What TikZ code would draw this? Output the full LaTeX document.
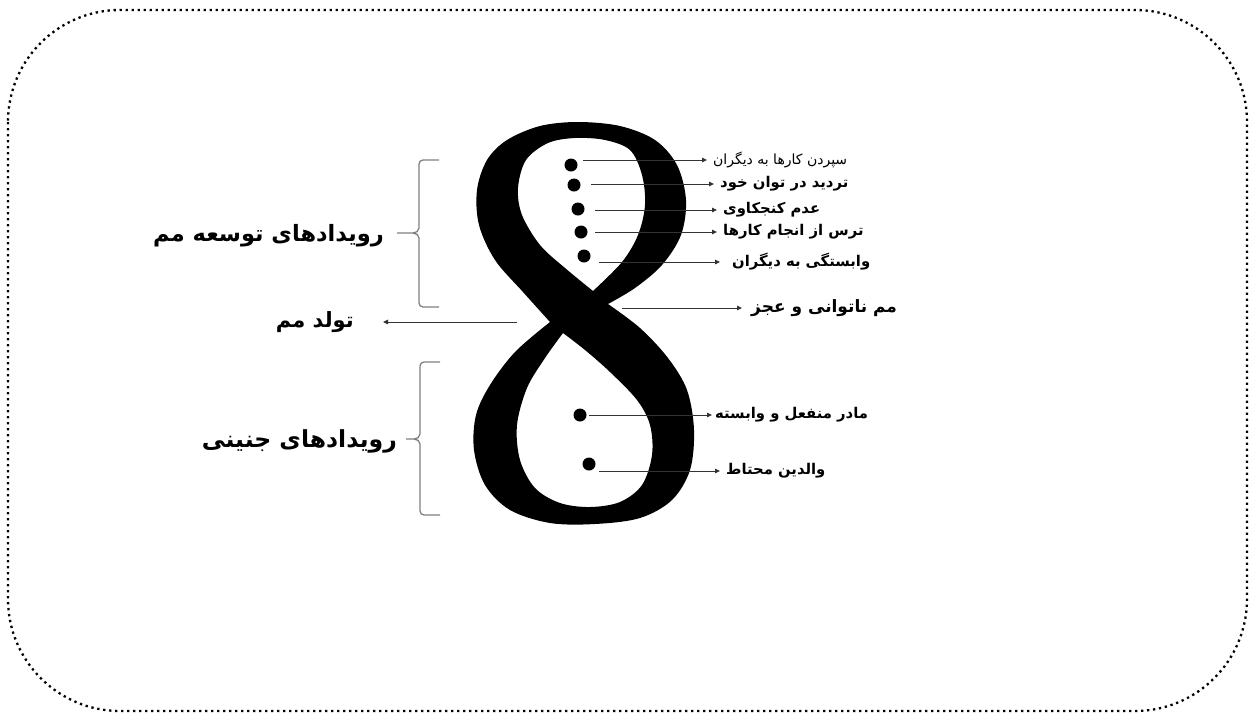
\documentclass[tikz,border=0pt]{standalone}
\usepackage{fontspec}
\setmainfont{Liberation Serif}
\newfontfamily\fa[Script=Arabic]{DejaVu Sans}
\TeXXeTstate=1
\usetikzlibrary{arrows.meta}
\tikzset{
  frameline/.style={line width=2.3pt, dash pattern=on 2.3pt off 3.7pt},
  dotmark/.style={circle, fill=black, inner sep=0pt, minimum size=13pt},
  lbl/.style={inner xsep=6pt, inner ysep=2pt, anchor=west, font=\fa\bfseries\fontsize{14.8}{17}\selectfont},
  lbllight/.style={inner xsep=6pt, inner ysep=2pt, anchor=west, font=\fa\fontsize{14}{16}\selectfont},
  big/.style={inner sep=0pt, font=\fa\bfseries\fontsize{22.5}{26}\selectfont},
  arr/.style={draw=black!80, line width=1pt, -{Triangle[length=5pt,width=4.5pt]}},
  bracestyle/.style={draw=black!50, line width=1.3pt},
}
\begin{document}
\begin{tikzpicture}[x=1pt,y=-1pt]
\useasboundingbox (0,0) rectangle (1250,713);
\draw[frameline, rounded corners=112pt] (8,10) rectangle (1247,711);

% big eight
\fill[even odd rule]
  plot[smooth, tension=0.55] coordinates {(550,322) (523,292) (495,260) (479,225) (477,190) (487,160) (507,140) (540,126) (578,122) (620,126) (655,140) (677,165) (686,200) (681,235) (662,265) (635,288) (608,304)}
  -- plot[smooth, tension=0.55] coordinates {(608,304) (640,328) (668,358) (687,390) (694,430) (690,470) (672,500) (640,518) (595,524) (550,523) (510,510) (485,485) (474,450) (476,415) (490,385) (515,352) (550,322)}
  -- cycle
  plot[smooth, tension=0.55] coordinates {(593,291) (565,268) (540,245) (522,215) (518,188) (526,160) (548,143) (575,138) (605,140) (630,150) (642,175) (645,205) (638,235) (622,262) (593,291)}
  -- cycle
  plot[smooth, tension=0.55] coordinates {(563,333) (545,358) (527,388) (517,425) (520,460) (535,488) (560,503) (590,507) (620,502) (642,485) (652,455) (650,425) (637,400) (610,372) (585,350) (563,333)}
  -- cycle;

% dots
\node[dotmark] (d1) at (571,165) {};
\node[dotmark] (d2) at (574,185) {};
\node[dotmark] (d3) at (578,209) {};
\node[dotmark] (d4) at (581,232) {};
\node[dotmark] (d5) at (584,256) {};
\node[dotmark] (d7) at (580,415) {};
\node[dotmark] (d8) at (589,464) {};

% start coordinates
\coordinate (s1) at (583,160);
\coordinate (s2) at (591,184);
\coordinate (s3) at (595,210);
\coordinate (s4) at (595,232);
\coordinate (s5) at (599,262);
\coordinate (s6) at (622,308);
\coordinate (s7) at (589,415);
\coordinate (s8) at (599,471);
\coordinate (s9) at (517,322);

% right labels
\node[lbllight] (l1) at (707,160) {\beginR سپردن کارها به دیگران\endR};
\node[lbl] (l2) at (714,184) {\beginR تردید در توان خود\endR};
\node[lbl] (l3) at (717,210) {\beginR عدم کنجکاوی\endR};
\node[lbl] (l4) at (717,232) {\beginR ترس از انجام کارها\endR};
\node[lbl, inner xsep=12pt] (l5) at (720,262) {\beginR وابستگی به دیگران\endR};
\node[lbl, inner xsep=9pt, font=\fa\bfseries\fontsize{17}{20}\selectfont] (l6) at (742,308) {\beginR مم ناتوانی و عجز\endR};
\node[lbl, inner xsep=3pt] (l7) at (712,415) {\beginR مادر منفعل و وابسته\endR};
\node[lbl] (l8) at (720,471) {\beginR والدین محتاط\endR};

% left labels
\node[big, anchor=east] (g1) at (384,236) {\beginR رویدادهای توسعه مم\endR};
\node[big, anchor=east, font=\fa\bfseries\fontsize{23.5}{27}\selectfont] (g2) at (397,441) {\beginR رویدادهای جنینی\endR};
\node[big, anchor=east, inner xsep=29pt, font=\fa\bfseries\fontsize{21}{24}\selectfont] (birth) at (383,322) {\beginR تولد مم\endR};

% arrows
\draw[arr] (s1) -- (l1);
\draw[arr] (s2) -- (l2);
\draw[arr] (s3) -- (l3);
\draw[arr] (s4) -- (l4);
\draw[arr] (s5) -- (l5);
\draw[arr] (s6) -- (l6);
\draw[arr] (s7) -- (l7);
\draw[arr] (s8) -- (l8);
\draw[arr] (s9) -- (birth);

% braces
\draw[bracestyle] (439,160) -- (423,160) to[out=180,in=90] (419,164) -- (419,228)
  to[out=-90,in=0] (413,233) -- (397,233);
\draw[bracestyle] (413,233) to[out=0,in=90] (419,238) -- (419,303)
  to[out=-90,in=180] (423,307) -- (439,307);
\draw[bracestyle] (440,362) -- (424,362) to[out=180,in=90] (420,366) -- (420,434)
  to[out=-90,in=0] (414,439) -- (406,439);
\draw[bracestyle] (414,439) to[out=0,in=90] (420,444) -- (420,511)
  to[out=-90,in=180] (424,515) -- (440,515);
\end{tikzpicture}
\end{document}
